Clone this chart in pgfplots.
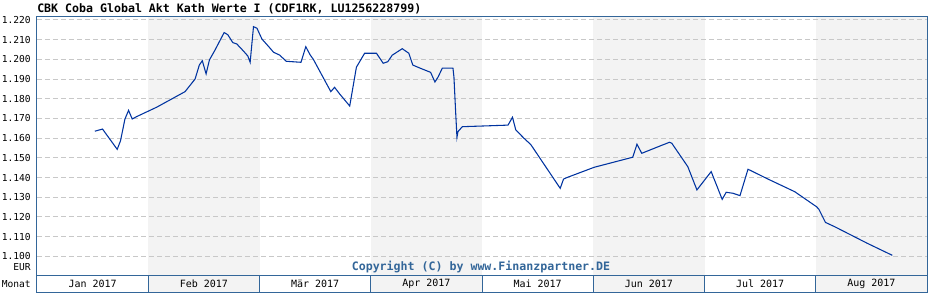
\documentclass[border=0pt]{standalone}
\usepackage{fontspec}
\setmainfont{DejaVu Sans Mono}
\setmonofont{DejaVu Sans Mono}
\usepackage{pgfplots}
\pgfplotsset{compat=1.18}
\definecolor{linecol}{HTML}{0033A0}
\definecolor{framecol}{HTML}{336699}
\definecolor{shadecol}{HTML}{F3F3F3}
\definecolor{gridcol}{HTML}{C8C8C8}
\begin{document}
\begin{tikzpicture}[x=1pt,y=1pt]
\useasboundingbox (-27.75,-18.75) rectangle (668.25,206.25);
% month shading (plot area and month band)
\foreach \k in {1,3,5,7}{
  \fill[fill=shadecol] ({83.4375*\k},-12.75) rectangle ({83.4375*(\k+1)},194.25);
}
\begin{axis}[at={(0,0)}, anchor=south west, scale only axis,
  width=667.5pt, height=194.25pt,
  xmin=0, xmax=8, ymin=1.0905, ymax=1.222,
  axis line style={framecol, line width=0.75pt},
  xtick=\empty,
  ytick={1.10,1.11,1.12,1.13,1.14,1.15,1.16,1.17,1.18,1.19,1.20,1.21,1.22},
  ymajorgrids,
  grid style={gridcol, dash pattern=on 3.75pt off 2.25pt, line width=0.75pt},
  major tick length=0pt,
  yticklabel style={font=\fontsize{7.2}{9}\selectfont, anchor=east, inner sep=0pt, xshift=-4.5pt},
  /pgf/number format/.cd, fixed, fixed zerofill, precision=3, assume math mode=true,
]
\addplot[linecol, line width=0.8pt] coordinates {
(0.520,1.1635) (0.589,1.1646) (0.721,1.1543) (0.751,1.1587) (0.790,1.1696)
(0.823,1.1741) (0.856,1.1697) (0.895,1.1709) (1.076,1.1757) (1.331,1.1836)
(1.421,1.1900) (1.459,1.1971) (1.486,1.1993) (1.520,1.1926) (1.550,1.1997)
(1.601,1.2048) (1.682,1.2136) (1.715,1.2125) (1.760,1.2085) (1.796,1.2078)
(1.856,1.2042) (1.895,1.2017) (1.916,1.1985) (1.946,1.2166) (1.977,1.2158)
(2.022,1.2103) (2.096,1.2056) (2.126,1.2036) (2.180,1.2022) (2.241,1.1990)
(2.373,1.1985) (2.416,1.2064) (2.457,1.2021) (2.484,1.2000) (2.641,1.1836)
(2.675,1.1858) (2.718,1.1826) (2.811,1.1763) (2.871,1.1960) (2.945,1.2031)
(3.051,1.2031) (3.112,1.1980) (3.153,1.1988) (3.193,1.2021) (3.283,1.2054)
(3.342,1.2031) (3.378,1.1971) (3.432,1.1958) (3.538,1.1934) (3.577,1.1885)
(3.607,1.1912) (3.643,1.1955) (3.739,1.1955) (3.748,1.1909) (3.763,1.1734)
(3.775,1.1604) (3.784,1.1633) (3.823,1.1658) (4.033,1.1662) (4.234,1.1666)
(4.274,1.1706) (4.304,1.1641) (4.378,1.1599) (4.439,1.1567) (4.703,1.1345)
(4.733,1.1392) (4.769,1.1401) (5.009,1.1452) (5.355,1.1503) (5.393,1.1569)
(5.436,1.1523) (5.685,1.1579) (5.706,1.1574) (5.850,1.1455) (5.932,1.1337)
(6.060,1.1430) (6.159,1.1289) (6.195,1.1325) (6.256,1.1320) (6.319,1.1308)
(6.391,1.1442) (6.571,1.1392) (6.811,1.1328) (7.006,1.1252) (7.027,1.1240)
(7.087,1.1172) (7.171,1.1150) (7.463,1.1066) (7.688,1.1005)
};
\end{axis}
% month band
\draw[framecol, line width=0.75pt] (0,-12.75) rectangle (667.5,0);
\foreach \k in {1,...,7}{
  \draw[framecol, line width=0.75pt] ({83.4375*\k},-12.75) -- ({83.4375*\k},0);
}
\foreach \k/\m in {0/Jan 2017,1/Feb 2017,2/Mär 2017,3/Apr 2017,4/Mai 2017,5/Jun 2017,6/Jul 2017,7/Aug 2017}{
  \node[font=\fontsize{7.5}{9}\selectfont, inner sep=0pt] at ({83.4375*(\k+0.5)},-6.5) {\m};
}
\node[font=\fontsize{7.2}{9}\selectfont, anchor=east, inner sep=0pt] at (-4.5,-6.5) {Monat};
\node[font=\fontsize{7.2}{9}\selectfont, anchor=east, inner sep=0pt] at (-4.5,5.8) {EUR};
\node[font=\bfseries\fontsize{8.7}{10}\selectfont, text=framecol, inner sep=0pt] at (333,5.8) {Copyright (C) by www.Finanzpartner.DE};
\node[font=\bfseries\fontsize{8.7}{10}\selectfont, anchor=west, inner sep=0pt] at (0,199.5) {CBK Coba Global Akt Kath Werte I (CDF1RK, LU1256228799)};
\end{tikzpicture}
\end{document}
